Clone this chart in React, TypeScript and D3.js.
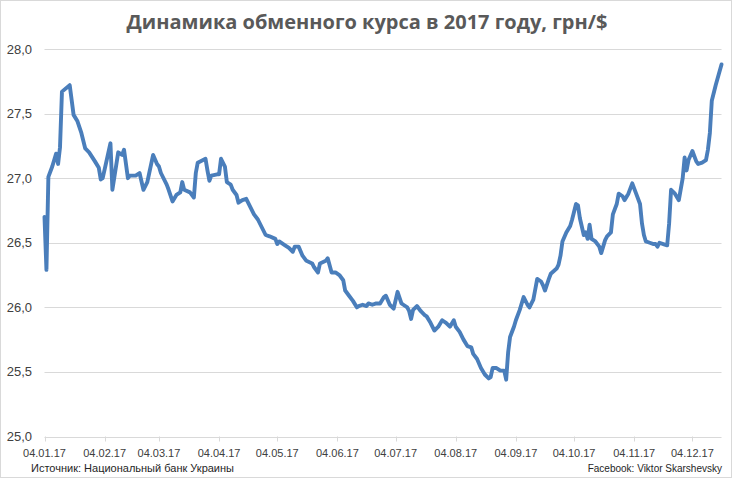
import React from "react";
import * as d3 from "d3";

const dates: string[] = [
  "2017-01-04","2017-01-05","2017-01-06","2017-01-08","2017-01-10","2017-01-11","2017-01-12","2017-01-13","2017-01-17","2017-01-19",
  "2017-01-21","2017-01-23","2017-01-25","2017-01-27","2017-01-30","2017-02-01","2017-02-02","2017-02-03","2017-02-07","2017-02-08",
  "2017-02-11","2017-02-13","2017-02-14","2017-02-16","2017-02-17","2017-02-20","2017-02-22","2017-02-24","2017-02-26","2017-02-27",
  "2017-03-01","2017-03-03","2017-03-04","2017-03-05","2017-03-08","2017-03-09","2017-03-11","2017-03-13","2017-03-15","2017-03-16",
  "2017-03-17","2017-03-20","2017-03-22","2017-03-23","2017-03-24","2017-03-28","2017-03-29","2017-03-30","2017-03-31","2017-04-03",
  "2017-04-04","2017-04-05","2017-04-07","2017-04-08","2017-04-10","2017-04-11","2017-04-13","2017-04-14","2017-04-16","2017-04-18",
  "2017-04-20","2017-04-22","2017-04-24","2017-04-26","2017-04-28","2017-04-30","2017-05-03","2017-05-04","2017-05-05","2017-05-08",
  "2017-05-10","2017-05-12","2017-05-13","2017-05-15","2017-05-17","2017-05-19","2017-05-22","2017-05-23","2017-05-25","2017-05-26",
  "2017-05-29","2017-05-30","2017-06-01","2017-06-03","2017-06-05","2017-06-07","2017-06-08","2017-06-10","2017-06-12","2017-06-14",
  "2017-06-15","2017-06-17","2017-06-19","2017-06-20","2017-06-22","2017-06-24","2017-06-26","2017-06-28","2017-06-29","2017-07-01",
  "2017-07-03","2017-07-05","2017-07-07","2017-07-08","2017-07-10","2017-07-11","2017-07-12","2017-07-13","2017-07-15","2017-07-17",
  "2017-07-19","2017-07-20","2017-07-22","2017-07-24","2017-07-26","2017-07-28","2017-07-30","2017-08-01","2017-08-03","2017-08-04",
  "2017-08-06","2017-08-08","2017-08-10","2017-08-12","2017-08-13","2017-08-15","2017-08-17","2017-08-19","2017-08-21","2017-08-22",
  "2017-08-23","2017-08-25","2017-08-27","2017-08-29","2017-08-30","2017-08-31","2017-09-01","2017-09-03","2017-09-04","2017-09-06",
  "2017-09-08","2017-09-10","2017-09-11","2017-09-13","2017-09-14","2017-09-15","2017-09-17","2017-09-18","2017-09-19","2017-09-21",
  "2017-09-22","2017-09-25","2017-09-26","2017-09-27","2017-09-28","2017-09-30","2017-10-02","2017-10-03","2017-10-05","2017-10-06",
  "2017-10-07","2017-10-09","2017-10-10","2017-10-11","2017-10-12","2017-10-13","2017-10-15","2017-10-17","2017-10-18","2017-10-20",
  "2017-10-21","2017-10-23","2017-10-24","2017-10-26","2017-10-27","2017-10-29","2017-10-30","2017-11-01","2017-11-03","2017-11-05",
  "2017-11-07","2017-11-08","2017-11-09","2017-11-10","2017-11-12","2017-11-14","2017-11-15","2017-11-16","2017-11-17","2017-11-19",
  "2017-11-21","2017-11-22","2017-11-23","2017-11-25","2017-11-27","2017-11-29","2017-11-30","2017-12-01","2017-12-02","2017-12-04",
  "2017-12-06","2017-12-07","2017-12-09","2017-12-11","2017-12-12","2017-12-13","2017-12-14","2017-12-16","2017-12-19"
];

const rates: number[] = [
  26.70,26.29,27.01,27.09,27.19,27.11,27.24,27.67,27.72,27.49,
  27.44,27.35,27.23,27.20,27.13,27.08,26.99,27.00,27.27,26.91,
  27.20,27.18,27.22,27.00,27.02,27.02,27.04,26.91,26.97,27.04,
  27.18,27.11,27.09,27.04,26.95,26.91,26.82,26.87,26.89,26.97,
  26.91,26.89,26.85,27.04,27.12,27.15,27.06,26.98,27.02,27.03,
  27.03,27.15,27.09,26.97,26.95,26.91,26.87,26.81,26.83,26.84,
  26.78,26.72,26.68,26.62,26.56,26.55,26.53,26.49,26.51,26.48,
  26.46,26.43,26.47,26.47,26.40,26.36,26.34,26.31,26.27,26.34,
  26.36,26.38,26.27,26.27,26.25,26.21,26.13,26.09,26.05,26.00,
  26.01,26.02,26.01,26.03,26.02,26.03,26.03,26.08,26.09,26.02,
  25.99,26.12,26.03,26.02,26.00,25.97,25.91,25.98,26.01,25.97,
  25.94,25.93,25.88,25.82,25.85,25.90,25.88,25.85,25.90,25.85,
  25.81,25.75,25.70,25.69,25.64,25.60,25.53,25.48,25.45,25.46,
  25.53,25.53,25.51,25.51,25.44,25.65,25.77,25.85,25.90,25.98,
  26.08,26.02,26.00,26.06,26.14,26.22,26.20,26.17,26.13,26.22,
  26.26,26.30,26.33,26.40,26.51,26.58,26.63,26.68,26.80,26.79,
  26.69,26.56,26.58,26.53,26.64,26.53,26.51,26.47,26.42,26.52,
  26.55,26.58,26.72,26.80,26.88,26.86,26.83,26.88,26.96,26.88,
  26.80,26.65,26.56,26.51,26.50,26.49,26.49,26.47,26.50,26.49,
  26.48,26.65,26.91,26.88,26.83,27.00,27.16,27.06,27.14,27.21,
  27.13,27.11,27.12,27.14,27.22,27.35,27.60,27.72,27.88
];

const tickDates: string[] = [
  "2017-01-04","2017-02-04","2017-03-04","2017-04-04","2017-05-04","2017-06-04",
  "2017-07-04","2017-08-04","2017-09-04","2017-10-04","2017-11-04","2017-12-04"
];
const yTicks: number[] = [25.0, 25.5, 26.0, 26.5, 27.0, 27.5, 28.0];

const title = "Динамика обменного курса в 2017 году, грн/$";
const sourceText = "Источник: Национальный банк Украины";
const creditText = "Facebook: Viktor Skarshevsky";

const W = 734;
const H = 479;

export default function App() {
  const parse = d3.utcParse("%Y-%m-%d");
  const data = dates.map((d, i) => ({ date: parse(d) as Date, value: rates[i] }));
  const fmtTick = d3.utcFormat("%d.%m.%y");
  const fmtY = (v: number) => v.toFixed(1).replace(".", ",");

  const x = d3
    .scaleUtc()
    .domain([parse("2017-01-04") as Date, parse("2017-12-19") as Date])
    .range([44.5, 721.5]);
  const y = d3.scaleLinear().domain([25, 28]).range([436.5, 49]);

  const line = d3
    .line<{ date: Date; value: number }>()
    .x((d) => x(d.date))
    .y((d) => y(d.value))
    .curve(d3.curveLinear);

  const ticks = tickDates.map((t) => parse(t) as Date);
  const grid = "#d9d9d9";
  const textCol = "#595959";

  return (
    <svg
      width={W}
      height={H}
      style={{ position: "absolute", left: 0, top: 0, background: "#fff" }}
      fontFamily="'Liberation Sans', Arial, sans-serif"
    >
      <rect x={0.5} y={0.5} width={W - 3} height={H - 2} fill="#fff" stroke="#d9d9d9" />
      <text
        x={367}
        y={29}
        textAnchor="middle"
        fontSize={20}
        fontWeight="bold"
        fill={textCol}
        fontFamily="'Open Sans', sans-serif"
      >
        {title}
      </text>
      {yTicks.map((v) => (
        <g key={v}>
          <line x1={44.5} x2={721.5} y1={Math.round(y(v)) + 0.5} y2={Math.round(y(v)) + 0.5} stroke={grid} strokeWidth={1} />
          <text x={32} y={y(v) + 4.5} textAnchor="end" fontSize={13} fill="#404040">
            {fmtY(v)}
          </text>
        </g>
      ))}
      {ticks.map((t, i) => (
        <g key={i}>
          <line x1={Math.round(x(t)) + 0.5} x2={Math.round(x(t)) + 0.5} y1={y(25)} y2={y(25) + 5} stroke={grid} />
          <text x={x(t)} y={457} textAnchor="middle" fontSize={11} fill="#404040">
            {fmtTick(t)}
          </text>
        </g>
      ))}
      <path
        d={line(data) || ""}
        fill="none"
        stroke="#4a7ebb"
        strokeWidth={3.9}
        strokeLinejoin="round"
        strokeLinecap="round"
      />
      <text x={31} y={472} fontSize={11} fill="#262626">
        {sourceText}
      </text>
      <text x={722} y={472} textAnchor="end" fontSize={10} fill="#262626">
        {creditText}
      </text>
    </svg>
  );
}
